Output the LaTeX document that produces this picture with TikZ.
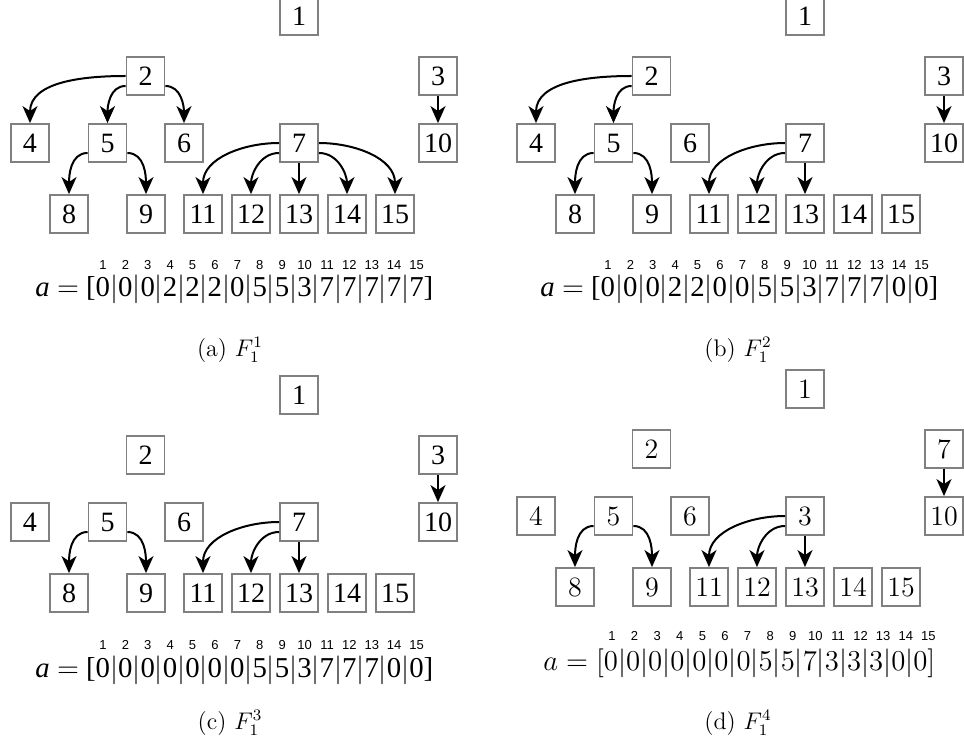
\documentclass[tikz,border=0pt]{standalone}
\usepackage{fontspec}
\newfontfamily\timesfont{Liberation Serif}
\newfontfamily\idxfont{Liberation Sans}
\newcommand{\cellsep}{$|$}
\usetikzlibrary{arrows.meta}

\begin{document}
\begin{tikzpicture}[
        x=0.5pt, y=-0.5pt,
        >={Stealth[length=8.5pt,width=7.5pt,inset=2.5pt]},
        box/.style={rectangle, draw=gray, line width=0.9pt, minimum size=19pt, inner sep=0pt, font=\fontsize{14}{16}\selectfont\timesfont},
        lmbox/.style={box, font=\fontsize{14}{16}\selectfont},
        link/.style={->, line width=1pt},
        row/.style={inner sep=0pt, anchor=base west, font=\fontsize{14.4}{16}\selectfont\timesfont},
        lmrow/.style={row, font=\fontsize{14.5}{16}\selectfont},
        idx/.style={inner sep=0pt, font=\fontsize{6.5}{7}\selectfont\idxfont},
        caption/.style={font=\fontsize{12}{14}\selectfont}
    ]
    \useasboundingbox (0,0) rectangle (964,748);

    % (a)
    \begin{scope}[name prefix=a-]
        \node[box] (n1) at (299,16) {1};
        \node[box] (n2) at (145.5,76) {2};
        \node[box] (n3) at (438,76) {3};
        \node[box] (n4) at (30,143) {4};
        \node[box] (n5) at (107.5,143) {5};
        \node[box] (n6) at (184,143) {6};
        \node[box] (n7) at (299,143) {7};
        \node[box] (n10) at (438,143) {10};
        \node[box] (n8) at (69,214) {8};
        \node[box] (n9) at (146,214) {9};
        \node[box] (n11) at (203,214) {11};
        \node[box] (n12) at (251,214) {12};
        \node[box] (n13) at (299,214) {13};
        \node[box] (n14) at (347,214) {14};
        \node[box] (n15) at (395,214) {15};

        \draw[link] (n2.west) to[out=180,in=90] (n4.north);
        \draw[link] ([yshift=-5pt]n2.west) to[out=180,in=90] (n5.north);
        \draw[link] ([yshift=-5pt]n2.east) to[out=0,in=90] (n6.north);
        \draw[link] (n3) -- (n10);
        \draw[link] ([yshift=-5pt]n5.west) to[out=180,in=90] (n8.north);
        \draw[link] ([yshift=-5pt]n5.east) to[out=0,in=90] (n9.north);
        \draw[link] (n7.west) to[out=180,in=90] (n11.north);
        \draw[link] ([yshift=-5pt]n7.west) to[out=180,in=90] (n12.north);
        \draw[link] (n7) -- (n13);
        \draw[link] ([yshift=-5pt]n7.east) to[out=0,in=90] (n14.north);
        \draw[link] (n7.east) to[out=0,in=90] (n15.north);

        \node[row] (arr) at (35,297) {\textit{a} $=$ [0\cellsep0\cellsep0\cellsep2\cellsep2\cellsep2\cellsep0\cellsep5\cellsep5\cellsep3\cellsep7\cellsep7\cellsep7\cellsep7\cellsep7]};
        \foreach \i in {1,...,15}
            \node[idx] (i\i) at ({103+(\i-1)*22.4},265) {\i};

        \node[caption] (cap) at (230,350) {(a)\ $F_1^1$};
    \end{scope}

    % (b)
    \begin{scope}[shift={(506,0)}, name prefix=b-]
        \node[box] (n1) at (299,16) {1};
        \node[box] (n2) at (145.5,76) {2};
        \node[box] (n3) at (438,76) {3};
        \node[box] (n4) at (30,143) {4};
        \node[box] (n5) at (107.5,143) {5};
        \node[box] (n6) at (184,143) {6};
        \node[box] (n7) at (299,143) {7};
        \node[box] (n10) at (438,143) {10};
        \node[box] (n8) at (69,214) {8};
        \node[box] (n9) at (146,214) {9};
        \node[box] (n11) at (203,214) {11};
        \node[box] (n12) at (251,214) {12};
        \node[box] (n13) at (299,214) {13};
        \node[box] (n14) at (347,214) {14};
        \node[box] (n15) at (395,214) {15};

        \draw[link] (n2.west) to[out=180,in=90] (n4.north);
        \draw[link] ([yshift=-5pt]n2.west) to[out=180,in=90] (n5.north);
        \draw[link] (n3) -- (n10);
        \draw[link] ([yshift=-5pt]n5.west) to[out=180,in=90] (n8.north);
        \draw[link] ([yshift=-5pt]n5.east) to[out=0,in=90] (n9.north);
        \draw[link] (n7.west) to[out=180,in=90] (n11.north);
        \draw[link] ([yshift=-5pt]n7.west) to[out=180,in=90] (n12.north);
        \draw[link] (n7) -- (n13);

        \node[row] (arr) at (34,297) {\textit{a} $=$ [0\cellsep0\cellsep0\cellsep2\cellsep2\cellsep0\cellsep0\cellsep5\cellsep5\cellsep3\cellsep7\cellsep7\cellsep7\cellsep0\cellsep0]};
        \foreach \i in {1,...,15}
            \node[idx] (i\i) at ({102+(\i-1)*22.4},265) {\i};

        \node[caption] (cap) at (232,350) {(b)\ $F_1^2$};
    \end{scope}

    % (c)
    \begin{scope}[shift={(0,379)}, name prefix=c-]
        \node[box] (n1) at (299,16) {1};
        \node[box] (n2) at (145.5,76) {2};
        \node[box] (n3) at (438,76) {3};
        \node[box] (n4) at (30,143) {4};
        \node[box] (n5) at (107.5,143) {5};
        \node[box] (n6) at (184,143) {6};
        \node[box] (n7) at (299,143) {7};
        \node[box] (n10) at (438,143) {10};
        \node[box] (n8) at (69,214) {8};
        \node[box] (n9) at (146,214) {9};
        \node[box] (n11) at (203,214) {11};
        \node[box] (n12) at (251,214) {12};
        \node[box] (n13) at (299,214) {13};
        \node[box] (n14) at (347,214) {14};
        \node[box] (n15) at (395,214) {15};

        \draw[link] (n3) -- (n10);
        \draw[link] ([yshift=-5pt]n5.west) to[out=180,in=90] (n8.north);
        \draw[link] ([yshift=-5pt]n5.east) to[out=0,in=90] (n9.north);
        \draw[link] (n7.west) to[out=180,in=90] (n11.north);
        \draw[link] ([yshift=-5pt]n7.west) to[out=180,in=90] (n12.north);
        \draw[link] (n7) -- (n13);

        \node[row] (arr) at (35,298) {\textit{a} $=$ [0\cellsep0\cellsep0\cellsep0\cellsep0\cellsep0\cellsep0\cellsep5\cellsep5\cellsep3\cellsep7\cellsep7\cellsep7\cellsep0\cellsep0]};
        \foreach \i in {1,...,15}
            \node[idx] (i\i) at ({103+(\i-1)*22.4},266) {\i};

        \node[caption] (cap) at (230,344) {(c)\ $F_1^3$};
    \end{scope}

    % (d)
    \begin{scope}[shift={(506,373)}, name prefix=d-]
        \node[lmbox] (n1) at (299,16) {1};
        \node[lmbox] (n2) at (145.5,76) {2};
        \node[lmbox] (n7) at (438,76) {7};
        \node[lmbox] (n4) at (30,143) {4};
        \node[lmbox] (n5) at (107.5,143) {5};
        \node[lmbox] (n6) at (184,143) {6};
        \node[lmbox] (n3) at (299,143) {3};
        \node[lmbox] (n10) at (438,143) {10};
        \node[lmbox] (n8) at (69,214) {8};
        \node[lmbox] (n9) at (146,214) {9};
        \node[lmbox] (n11) at (203,214) {11};
        \node[lmbox] (n12) at (251,214) {12};
        \node[lmbox] (n13) at (299,214) {13};
        \node[lmbox] (n14) at (347,214) {14};
        \node[lmbox] (n15) at (395,214) {15};

        \draw[link] (n7) -- (n10);
        \draw[link] ([yshift=-5pt]n5.west) to[out=180,in=90] (n8.north);
        \draw[link] ([yshift=-5pt]n5.east) to[out=0,in=90] (n9.north);
        \draw[link] (n3.west) to[out=180,in=90] (n11.north);
        \draw[link] ([yshift=-5pt]n3.west) to[out=180,in=90] (n12.north);
        \draw[link] (n3) -- (n13);

        \node[lmrow] (arr) at (37,297) {$a = [0|0|0|0|0|0|0|5|5|7|3|3|3|0|0]$};
        \foreach \i in {1,...,15}
            \node[idx] (i\i) at ({106+(\i-1)*22.6},263) {\i};

        \node[caption] (cap) at (232,350) {(d)\ $F_1^4$};
    \end{scope}
\end{tikzpicture}
\end{document}
